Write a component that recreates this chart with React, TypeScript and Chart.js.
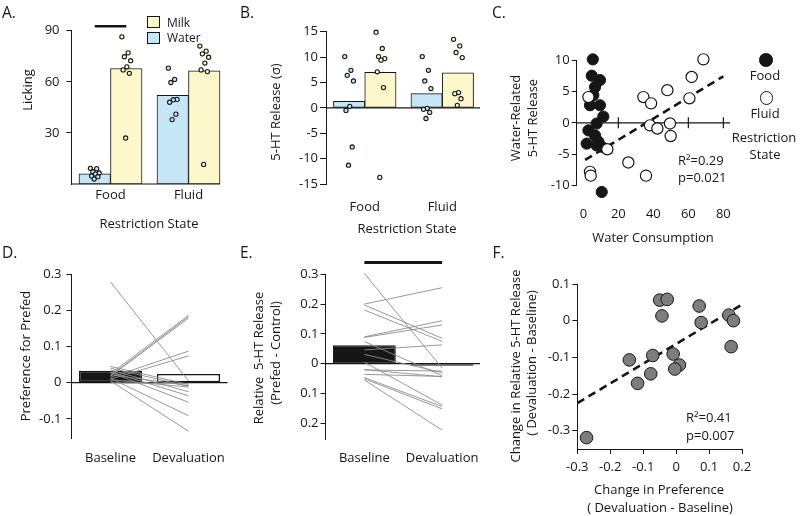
import React, { useEffect, useRef } from "react";
import { Chart, registerables } from "chart.js";

Chart.register(...registerables);

const FONT = "'Open Sans', 'Noto Sans', 'DejaVu Sans', sans-serif";
Chart.defaults.font.family = FONT;
Chart.defaults.font.size = 13;
Chart.defaults.color = "#161616";

// ---------------- data ----------------
// Panel A
const restrictionGroups = ["Food", "Fluid"];
const aWaterBars = [6, 52];
const aMilkBars = [67.8, 66.5];
const aWaterFood = [9.2, 9.0, 7.2, 6.5, 5.8, 4.7, 4.3, 2.9];
const aWaterFluid = [68, 61.4, 59.6, 49.7, 49.5, 48, 41, 37.8];
const aMilkFood = [86.4, 77, 74.7, 72.4, 68.8, 67, 65, 27];
const aMilkFluid = [81, 78, 76.4, 74.4, 71, 67, 66, 11.5];
const aYTicks = [30, 60, 90];

// Panel B
const bWaterBars = [1.3, 2.8];
const bMilkBars = [7.0, 6.9];
const bWaterFood = [10.1, 7.4, 6.4, 5.3, 0.3, -0.5, -7.7, -11.3];
const bWaterFluid = [10.1, 7.4, 5.3, 3.8, -0.1, -0.3, -0.9, -2.1];
const bMilkFood = [14.9, 11.7, 10.1, 9.7, 9.4, 7.1, 4.0, -13.7];
const bMilkFluid = [13.5, 12.2, 10.9, 9.9, 3.0, 2.8, 1.8, 0.5];
const bYTicks = [-15, -10, -5, 0, 5, 10, 15];

// Panel C
const cFoodWater = [5.4, 4.8, 9.5, 6.7, 5.7, 3.8, 9.5, 11.4, 7.6, 2.9, 6.7, 8.6, 1.9, 7.6, 10.5, 10.5];
const cFoodRelease = [10.1, 7.5, 6.8, 5.7, 4.4, 2.8, 2.8, 1.0, -0.1, -1.2, -2.0, -3.0, -3.3, -3.6, -3.8, -11.0];
const cFluidWater = [68.6, 61.9, 60.6, 48.0, 34.3, 38.7, 38.1, 42.3, 49.5, 49.9, 13.7, 25.7, 35.8, 2.9, 3.8, 4.2];
const cFluidRelease = [10.1, 7.3, 3.9, 5.2, 4.1, 3.1, -0.4, -0.9, -0.1, -2.1, -4.2, -6.3, -8.4, 4.1, -7.8, -8.4];
const cFitWater = [1, 80];
const cFitRelease = [-5.9, 7.4];
const cXTicks = [0, 20, 40, 60, 80];
const cYTicks = [-10, -5, 0, 5, 10];

// Panel D
const conditions = ["Baseline", "Devaluation"];
const dBars = [0.033, 0.024];
const dBaseline = [0.278, 0.025, 0.02, 0.018, 0.015, 0.01, 0.045, 0.04, 0.035, 0.03, 0.028, 0.012, 0.005, 0.022, 0.008, 0.0];
const dDevaluation = [0.005, 0.186, 0.182, 0.178, 0.087, 0.074, -0.005, -0.01, -0.025, -0.036, -0.054, -0.091, -0.134, -0.008, -0.012, -0.002];
const dYTicks = [-0.1, 0, 0.1, 0.2, 0.3];

// Panel E
const eBars = [0.0615, -0.007];
const eBaseline = [0.303, 0.2, 0.197, 0.18, 0.09, 0.088, 0.074, 0.046, 0.031, 0.005, -0.021, -0.036, -0.047, -0.051, -0.055, -0.02];
const eDevaluation = [-0.015, 0.255, 0.085, 0.075, 0.144, 0.13, -0.04, 0.063, -0.03, -0.139, -0.025, -0.043, -0.144, -0.152, -0.223, -0.044];
const eYTicks = [-0.2, -0.1, 0, 0.1, 0.2, 0.3];
const eYTickLabels = ["0.2", "0.1", "0", "0.1", "0.2", "0.3"];

// Panel F
const fPrefChange = [-0.272, -0.142, -0.117, -0.077, -0.071, -0.05, -0.027, -0.043, -0.009, 0.01, -0.004, 0.07, 0.076, 0.16, 0.174, 0.167];
const fReleaseChange = [-0.319, -0.107, -0.171, -0.145, -0.095, 0.056, 0.058, 0.013, -0.091, -0.121, -0.132, 0.04, -0.005, 0.015, 0.0, -0.071];
const fFitX = [-0.3, 0.198];
const fFitY = [-0.225, 0.043];
const fXTicks = [-0.3, -0.2, -0.1, 0, 0.1, 0.2];
const fYTicks = [-0.3, -0.2, -0.1, 0, 0.1];

// ---------------- style ----------------
const INK = "#161616";
const WATER = "#c6e6f6";
const MILK = "#fcf8cc";
const SUBJECT_LINE = "#8c8c8c";
const F_FILL = "#7d7d7d";
const A_SIG = 92.6;
const E_SIG = 0.34;
const CAT_PCT = 0.808;
const HALF = CAT_PCT / 4;

type Box = { left: number; top: number; width: number; height: number };
type Area = { l: number; t: number; r: number; b: number };

const BOX: Record<string, Box> = {
  A: { left: 0, top: 0, width: 245, height: 250 },
  B: { left: 250, top: 0, width: 245, height: 250 },
  C: { left: 500, top: 0, width: 300, height: 250 },
  D: { left: 0, top: 250, width: 245, height: 266 },
  E: { left: 250, top: 250, width: 245, height: 266 },
  F: { left: 500, top: 250, width: 300, height: 266 },
};
const AREA: Record<string, Area> = {
  A: { l: 71.5, t: 30.7, r: 227.5, b: 184 },
  B: { l: 326, t: 31.7, r: 481, b: 184 },
  C: { l: 576.7, t: 60, r: 730, b: 185.7 },
  D: { l: 71.5, t: 274, r: 227.5, b: 438.3 },
  E: { l: 325.5, t: 274.3, r: 481, b: 439.3 },
  F: { l: 577.3, t: 284, r: 742, b: 449 },
};

const fmt = (v: number) => String(v);

function layoutFor(box: Box, a: Area) {
  return { padding: { left: 0, top: a.t - box.top, right: box.left + box.width - a.r, bottom: 0 } };
}

function yAxis(box: Box, a: Area, min: number, max: number, ticks: number[], o: any = {}) {
  return {
    type: "linear",
    position: "left",
    min,
    max,
    afterBuildTicks: (s: any) => {
      s.ticks = ticks.map((v) => ({ value: v }));
    },
    afterFit: (s: any) => {
      s.width = a.l - box.left;
    },
    grid: { display: true, drawOnChartArea: false, drawTicks: true, tickLength: o.tickLength ?? 5, color: INK, lineWidth: 1 },
    border: { display: true, color: INK, width: 1 },
    ticks: {
      padding: o.padding ?? 3,
      color: INK,
      autoSkip: false,
      font: { size: 13 },
      callback: (v: number, i: number) => (o.labels ? o.labels[i] : fmt(v)),
    },
  };
}

function catAxis(box: Box, a: Area, pad: number) {
  return {
    type: "category",
    offset: true,
    afterFit: (s: any) => {
      s.height = box.top + box.height - a.b;
    },
    grid: { display: false, drawTicks: false },
    border: { display: false },
    ticks: { padding: pad, color: INK, autoSkip: false, maxRotation: 0, font: { size: 13 } },
  };
}

// linear index axis whose integer positions carry group names
function groupAxis(box: Box, a: Area, pad: number, names: string[]) {
  return {
    type: "linear",
    offset: false,
    min: -0.5,
    max: names.length - 0.5,
    afterBuildTicks: (s: any) => {
      s.ticks = names.map((_, i) => ({ value: i }));
    },
    afterFit: (s: any) => {
      s.height = box.top + box.height - a.b;
    },
    grid: { display: false, drawTicks: false },
    border: { display: false },
    ticks: {
      padding: pad,
      color: INK,
      autoSkip: false,
      maxRotation: 0,
      font: { size: 13 },
      callback: (v: number) => names[v] ?? "",
    },
  };
}

function xAxis(box: Box, a: Area, min: number, max: number, ticks: number[], o: any = {}) {
  return {
    type: "linear",
    position: "bottom",
    min,
    max,
    afterBuildTicks: (s: any) => {
      s.ticks = ticks.map((v) => ({ value: v }));
    },
    afterFit: (s: any) => {
      s.height = box.top + box.height - a.b;
    },
    grid: o.axis
      ? { display: true, drawOnChartArea: false, drawTicks: true, tickLength: 5, color: INK, lineWidth: 1 }
      : { display: false, drawTicks: false },
    border: { display: !!o.axis, color: INK, width: 1 },
    ticks: { padding: o.padding ?? 4, color: INK, autoSkip: false, maxRotation: 0, font: { size: 13 }, callback: (v: number) => fmt(v) },
  };
}

function hline(ctx: CanvasRenderingContext2D, x0: number, x1: number, y: number, w = 1.2) {
  ctx.save();
  ctx.beginPath();
  ctx.moveTo(x0, y);
  ctx.lineTo(x1, y);
  ctx.lineWidth = w;
  ctx.strokeStyle = INK;
  ctx.stroke();
  ctx.restore();
}
function vline(ctx: CanvasRenderingContext2D, x: number, y0: number, y1: number, w = 1.2) {
  ctx.save();
  ctx.beginPath();
  ctx.moveTo(x, y0);
  ctx.lineTo(x, y1);
  ctx.lineWidth = w;
  ctx.strokeStyle = INK;
  ctx.stroke();
  ctx.restore();
}

const jit = (i: number) => (((i * 5) % 8) - 3.5) * 0.016;
const groupPoints = (groups: number[][], shift: number) =>
  groups.flatMap((arr, g) => arr.map((v, i) => ({ x: g + shift + jit(i), y: v })));
const groupBars = (vals: number[], shift: number) => vals.map((y, g) => ({ x: g + shift, y }));

const baseOptions = (box: Box, a: Area, scales: any) => ({
  responsive: false,
  maintainAspectRatio: false,
  animation: false,
  events: [],
  layout: layoutFor(box, a),
  plugins: { legend: { display: false }, tooltip: { enabled: false }, title: { display: false } },
  scales,
});

function pointSet(data: any[], fill: string) {
  return {
    type: "scatter",
    data,
    backgroundColor: fill,
    borderColor: INK,
    borderWidth: 1.1,
    pointRadius: 2.1,
    clip: false,
    order: 0,
  };
}

function groupBarSet(data: any[], fill: string) {
  return {
    type: "bar",
    data,
    backgroundColor: fill,
    borderColor: INK,
    borderWidth: 1,
    borderSkipped: false,
    grouped: false,
    categoryPercentage: 1,
    barPercentage: 1,
    order: 5,
  };
}

function barSet(data: number[], fill: any, extra: any = {}) {
  return {
    type: "bar",
    data,
    backgroundColor: fill,
    borderColor: INK,
    borderWidth: 1,
    borderSkipped: false,
    categoryPercentage: CAT_PCT,
    barPercentage: 1,
    order: 5,
    ...extra,
  };
}

function configA() {
  const box = BOX.A, a = AREA.A;
  return {
    type: "bar",
    data: {
      datasets: [
        pointSet(groupPoints([aWaterFood, aWaterFluid], -HALF), WATER),
        pointSet(groupPoints([aMilkFood, aMilkFluid], HALF), MILK),
        groupBarSet(groupBars(aWaterBars, -HALF), WATER),
        groupBarSet(groupBars(aMilkBars, HALF), MILK),
      ],
    },
    options: baseOptions(box, a, {
      x: groupAxis(box, a, 3.2, restrictionGroups),
      y: yAxis(box, a, 0, 90, aYTicks, { tickLength: 5, padding: 7 }),
    }),
    plugins: [
      {
        id: "aDecor",
        beforeDatasetsDraw(chart: any) {
          const y = chart.scales.y.getPixelForValue(0);
          const bars = chart.getDatasetMeta(3).data;
          const last = bars[bars.length - 1];
          hline(chart.ctx, chart.chartArea.left, last.x + last.width / 2, y, 1.2);
        },
        afterDraw(chart: any) {
          const y = chart.scales.y.getPixelForValue(A_SIG);
          const w = chart.getDatasetMeta(2).data[0];
          const m = chart.getDatasetMeta(3).data[0];
          hline(chart.ctx, w.x, m.x, y, 2.6);
        },
      },
    ],
  };
}

function configB() {
  const box = BOX.B, a = AREA.B;
  return {
    type: "bar",
    data: {
      datasets: [
        pointSet(groupPoints([bWaterFood, bWaterFluid], -HALF), WATER),
        pointSet(groupPoints([bMilkFood, bMilkFluid], HALF), MILK),
        groupBarSet(groupBars(bWaterBars, -HALF), WATER),
        groupBarSet(groupBars(bMilkBars, HALF), MILK),
      ],
    },
    options: baseOptions(box, a, {
      x: groupAxis(box, a, 15.2, restrictionGroups),
      y: yAxis(box, a, -15, 15, bYTicks, { tickLength: 6, padding: 2 }),
    }),
    plugins: [
      {
        id: "bDecor",
        beforeDatasetsDraw(chart: any) {
          const y = chart.scales.y.getPixelForValue(0);
          hline(chart.ctx, chart.chartArea.left, chart.chartArea.right - 1, y, 1.2);
        },
      },
    ],
  };
}

function configC() {
  const box = BOX.C, a = AREA.C;
  return {
    type: "scatter",
    data: {
      datasets: [
        {
          type: "line",
          data: cFitWater.map((x, i) => ({ x, y: cFitRelease[i] })),
          borderColor: INK,
          borderWidth: 2.6,
          borderDash: [8, 5],
          pointRadius: 0,
          fill: false,
          order: 3,
        },
        {
          data: cFoodWater.map((x, i) => ({ x, y: cFoodRelease[i] })),
          backgroundColor: INK,
          borderColor: INK,
          borderWidth: 1,
          pointRadius: 5.6,
          clip: false,
          order: 2,
        },
        {
          data: cFluidWater.map((x, i) => ({ x, y: cFluidRelease[i] })),
          backgroundColor: "#ffffff",
          borderColor: INK,
          borderWidth: 1.2,
          pointRadius: 5.6,
          clip: false,
          order: 1,
        },
      ],
    },
    options: baseOptions(box, a, {
      x: xAxis(box, a, -3.8, 83.8, cXTicks, { padding: 20.8 }),
      y: yAxis(box, a, -10, 10, cYTicks, { tickLength: 5, padding: 2 }),
    }),
    plugins: [
      {
        id: "cDecor",
        beforeDatasetsDraw(chart: any) {
          const ctx = chart.ctx;
          const y0 = chart.scales.y.getPixelForValue(0);
          hline(ctx, chart.chartArea.left, chart.chartArea.right, y0, 1.2);
          cXTicks.forEach((v) => {
            if (v === 0) return;
            const px = chart.scales.x.getPixelForValue(v);
            vline(ctx, px, y0 - 5.5, y0 + 5.5, 1.2);
          });
        },
      },
    ],
  };
}

function subjectLines(base: number[], dev: number[]) {
  return base.map((b, i) => ({
    type: "line",
    data: [b, dev[i]],
    borderColor: SUBJECT_LINE,
    borderWidth: 0.9,
    pointRadius: 0,
    fill: false,
    clip: false,
    order: 1,
  }));
}

function configD() {
  const box = BOX.D, a = AREA.D;
  return {
    type: "bar",
    data: {
      labels: conditions,
      datasets: [...subjectLines(dBaseline, dDevaluation), barSet(dBars, [INK, "#ffffff"], { borderWidth: 1.5 })],
    },
    options: baseOptions(box, a, {
      x: catAxis(box, a, 11.9),
      y: yAxis(box, a, -0.1535, 0.3, dYTicks, { tickLength: 5, padding: 5 }),
    }),
    plugins: [
      {
        id: "dDecor",
        beforeDatasetsDraw(chart: any) {
          const y = chart.scales.y.getPixelForValue(0);
          hline(chart.ctx, chart.chartArea.left, chart.chartArea.right, y, 1.2);
        },
      },
    ],
  };
}

function configE() {
  const box = BOX.E, a = AREA.E;
  const barIdx = eBaseline.length;
  return {
    type: "bar",
    data: {
      labels: conditions,
      datasets: [...subjectLines(eBaseline, eDevaluation), barSet(eBars, INK)],
    },
    options: baseOptions(box, a, {
      x: catAxis(box, a, 10.9),
      y: yAxis(box, a, -0.254, 0.3, eYTicks, { tickLength: 5, padding: 2, labels: eYTickLabels }),
    }),
    plugins: [
      {
        id: "eDecor",
        beforeDatasetsDraw(chart: any) {
          const y = chart.scales.y.getPixelForValue(0);
          hline(chart.ctx, chart.chartArea.left, chart.chartArea.right - 1, y, 1.2);
        },
        afterDraw(chart: any) {
          const y = chart.scales.y.getPixelForValue(E_SIG);
          const bars = chart.getDatasetMeta(barIdx).data;
          hline(chart.ctx, bars[0].x, bars[1].x, y, 3);
        },
      },
    ],
  };
}

function configF() {
  const box = BOX.F, a = AREA.F;
  return {
    type: "scatter",
    data: {
      datasets: [
        {
          type: "line",
          data: fFitX.map((x, i) => ({ x, y: fFitY[i] })),
          borderColor: INK,
          borderWidth: 2.6,
          borderDash: [8, 5],
          pointRadius: 0,
          fill: false,
          order: 3,
        },
        {
          data: fPrefChange.map((x, i) => ({ x, y: fReleaseChange[i] })),
          backgroundColor: F_FILL,
          borderColor: INK,
          borderWidth: 1,
          pointRadius: 6.3,
          clip: false,
          order: 1,
        },
      ],
    },
    options: baseOptions(box, a, {
      x: xAxis(box, a, -0.3, 0.2, fXTicks, { axis: true, padding: 5 }),
      y: yAxis(box, a, -0.35, 0.1, fYTicks, { tickLength: 5, padding: 2 }),
    }),
  };
}

function ChartPanel({ box, build }: { box: Box; build: () => any }) {
  const ref = useRef<HTMLCanvasElement>(null);
  useEffect(() => {
    const chart = new Chart(ref.current as HTMLCanvasElement, build() as any);
    return () => chart.destroy();
  }, []);
  return (
    <canvas
      ref={ref}
      width={box.width}
      height={box.height}
      style={{ position: "absolute", left: box.left, top: box.top, width: box.width, height: box.height }}
    />
  );
}

function T({ x, y, s = 13, rot = false, left = false, children }: any) {
  return (
    <div
      style={{
        position: "absolute",
        left: x,
        top: y,
        transform: `translate(${left ? "0" : "-50%"}, -50%)${rot ? " rotate(-90deg)" : ""}`,
        fontSize: s,
        lineHeight: 1,
        whiteSpace: "pre",
        fontFamily: FONT,
        color: INK,
      }}
    >
      {children}
    </div>
  );
}

function Swatch({ x, y, w, h, fill }: any) {
  return (
    <div
      style={{
        position: "absolute",
        left: x,
        top: y,
        width: w,
        height: h,
        background: fill,
        border: `1px solid ${INK}`,
        boxSizing: "border-box",
      }}
    />
  );
}

function Dot({ cx, cy, r, fill }: any) {
  return (
    <div
      style={{
        position: "absolute",
        left: cx - r,
        top: cy - r,
        width: 2 * r,
        height: 2 * r,
        borderRadius: "50%",
        background: fill,
        border: `1.3px solid ${INK}`,
        boxSizing: "border-box",
      }}
    />
  );
}

export default function App() {
  return (
    <div
      style={{
        position: "absolute",
        left: 0,
        top: 0,
        width: 800,
        height: 516,
        background: "#ffffff",
        overflow: "hidden",
        fontFamily: FONT,
      }}
    >
      <ChartPanel box={BOX.A} build={configA} />
      <ChartPanel box={BOX.B} build={configB} />
      <ChartPanel box={BOX.C} build={configC} />
      <ChartPanel box={BOX.D} build={configD} />
      <ChartPanel box={BOX.E} build={configE} />
      <ChartPanel box={BOX.F} build={configF} />

      {/* panel letters */}
      <T x={2} y={12.5} s={15.5} left>A.</T>
      <T x={240} y={12.5} s={15.5} left>B.</T>
      <T x={492} y={12.5} s={15.5} left>C.</T>
      <T x={2} y={253} s={15.5} left>D.</T>
      <T x={240} y={253} s={15.5} left>E.</T>
      <T x={492.5} y={253} s={15.5} left>F.</T>

      {/* Panel A */}
      <Swatch x={147} y={16} w={13} h={12} fill={MILK} />
      <Swatch x={147} y={32} w={13} h={12} fill={WATER} />
      <T x={167} y={22.5} s={12} left>Milk</T>
      <T x={167} y={38.3} s={12} left>Water</T>
      <T x={27} y={90} rot>Licking</T>
      <T x={149} y={223}>Restriction State</T>

      {/* Panel B */}
      <T x={275} y={112} rot>5-HT Release (σ)</T>
      <T x={407} y={228}>Restriction State</T>

      {/* Panel C */}
      <T x={514.5} y={118} rot>Water-Related</T>
      <T x={531.5} y={118} rot>5-HT Release</T>
      <T x={653} y={237}>Water Consumption</T>
      <T x={678} y={160} left>R²=0.29</T>
      <T x={678} y={177} left>p=0.021</T>
      <Dot cx={766} cy={60} r={6.7} fill={INK} />
      <T x={765} y={75}>Food</T>
      <Dot cx={766.5} cy={98} r={6.7} fill="#ffffff" />
      <T x={765} y={113.3}>Fluid</T>
      <T x={764} y={137}>Restriction</T>
      <T x={765} y={154}>State</T>

      {/* Panel D */}
      <T x={25} y={356} rot>Preference for Prefed</T>

      {/* Panel E */}
      <T x={258.3} y={358} rot>{"Relative  5-HT Release"}</T>
      <T x={275} y={353} rot>(Prefed - Control)</T>

      {/* Panel F */}
      <T x={515} y={366} rot>Change in Relative 5-HT Release</T>
      <T x={531} y={363} rot>( Devaluation - Baseline)</T>
      <T x={659} y={489}>Change in Preference</T>
      <T x={660} y={507}>( Devaluation - Baseline)</T>
      <T x={686} y={416.7} left>R²=0.41</T>
      <T x={686} y={435} left>p=0.007</T>
    </div>
  );
}
